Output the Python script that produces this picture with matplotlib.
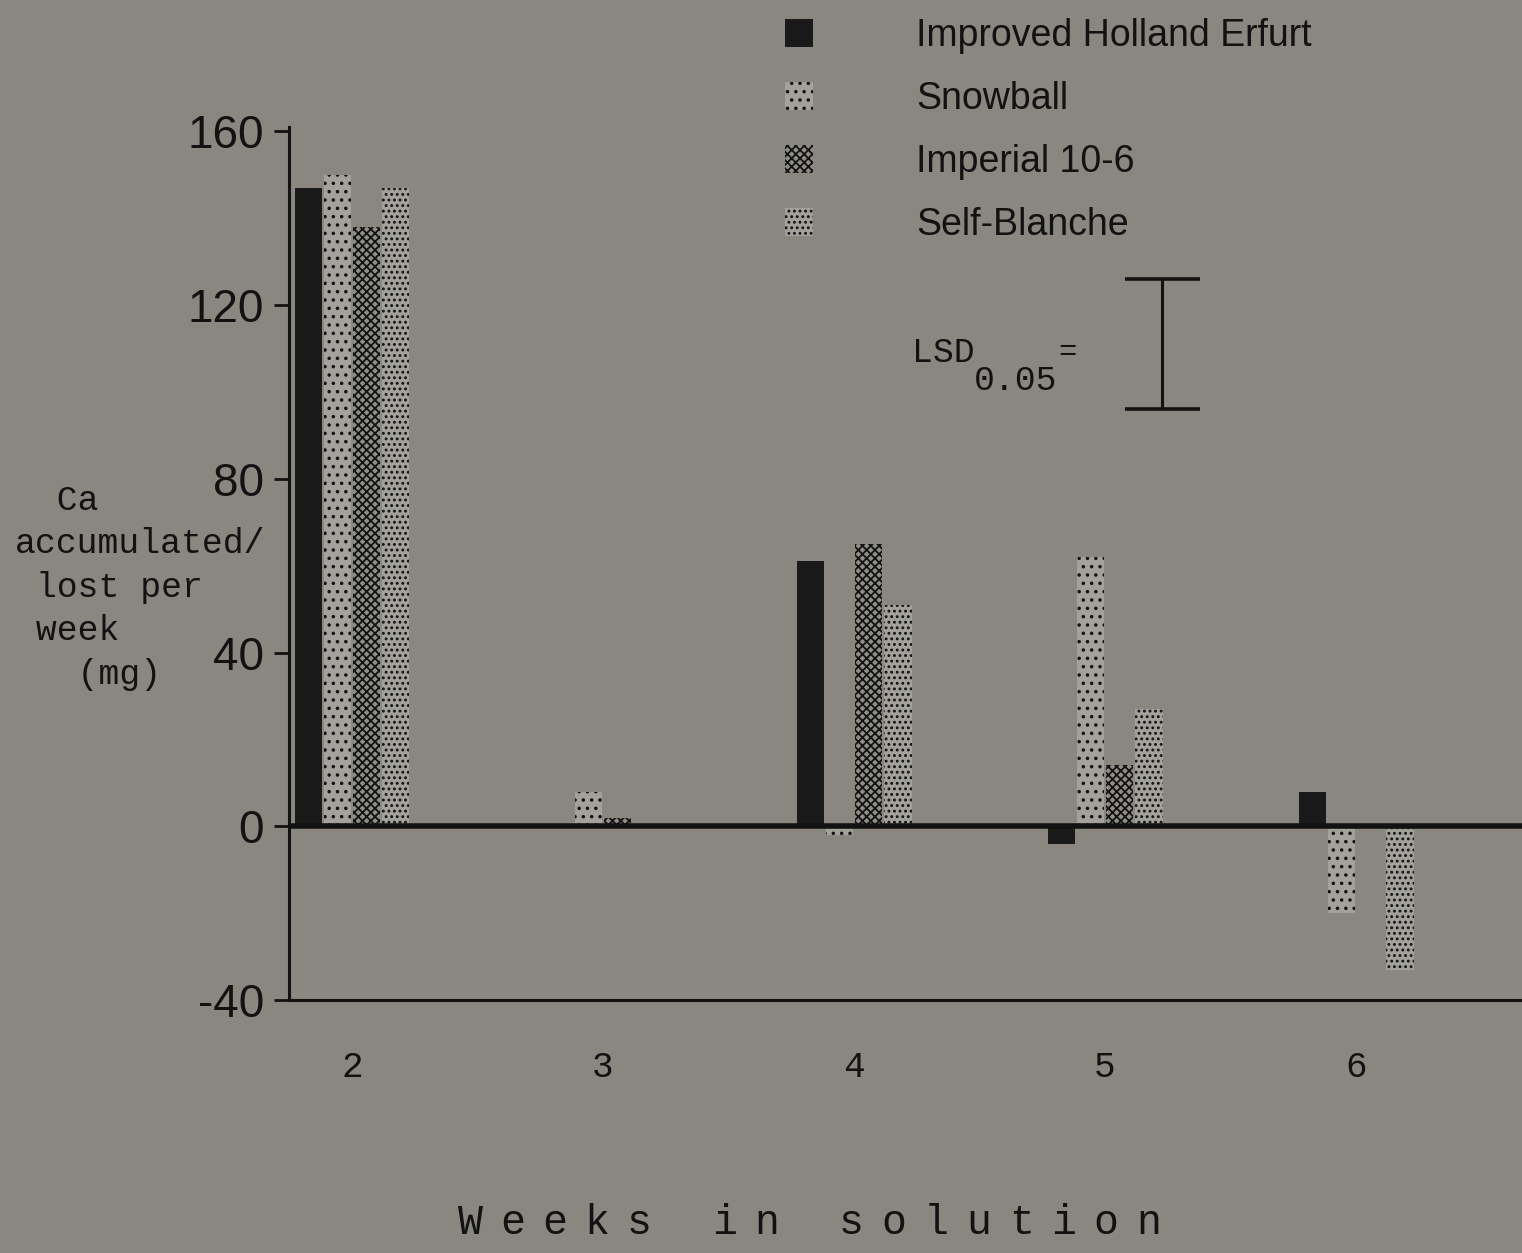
import numpy as np
import matplotlib
matplotlib.use("Agg")
import matplotlib.pyplot as plt
from matplotlib.patches import Patch

# data (mg Ca per week)
weeks = ["2", "3", "4", "5", "6"]
cultivars = ["Improved Holland Erfurt", "Snowball", "Imperial 10-6", "Self-Blanche"]
holland = [147, 0, 61, -4, 8]
snowball = [150, 8, -2, 62, -20]
imperial = [138, 2, 65, 14, 0]
self_blanche = [147, 0, 51, 27, -33]
lsd_value = 30
yticks = [-40, 0, 40, 80, 120, 160]
ylabel_lines = ["  Ca", "accumulated/", " lost per", " week", "   (mg)"]

W, H = 1522, 1253
bg = "#8a8781"
ink = "#121212"
mono = "Liberation Mono"
sans = "Liberation Sans"

plt.rcParams["hatch.linewidth"] = 1.3

def fx(px):
    return px / W

def fy(py):
    return 1 - py / H

fig = plt.figure(figsize=(W / 100, H / 100), dpi=100, facecolor=bg)
ax = fig.add_axes([fx(289), fy(1000), 1 - fx(289), (1000 - 127) / H])
ax.set_facecolor(bg)

x = np.arange(len(weeks))
bw = 0.11
step = 0.116
styles = [
    dict(color="#1a1a1a", hatch=None),
    dict(color="#a3a19b", hatch=".."),
    dict(color="#8f8d88", hatch="xxxx"),
    dict(color="#a3a19b", hatch="..."),
]
series = [holland, snowball, imperial, self_blanche]
handles = []
for i, (vals, st) in enumerate(zip(series, styles)):
    ax.bar(x + (i - 1.5) * step, vals, width=bw, facecolor=st["color"],
           edgecolor=ink, linewidth=0, hatch=st["hatch"], zorder=2)
    handles.append(Patch(facecolor=st["color"], edgecolor=ink, linewidth=0,
                         hatch=st["hatch"], label=cultivars[i]))

ax.axhline(0, color=ink, lw=4, zorder=3)

# LSD bar
ax.errorbar([3.227], [111], yerr=[lsd_value / 2], fmt="none", ecolor=ink,
            elinewidth=2.2, capsize=27, capthick=2.6, zorder=3)

ax.set_xlim(-0.251, 4.661)
ax.set_ylim(-40, 161)
ax.set_yticks(yticks)
ax.set_yticklabels([str(v) for v in yticks], fontfamily=sans, fontsize=33, color=ink)
ax.set_xticks(x)
ax.set_xticklabels(weeks, fontfamily=mono, fontsize=26, color=ink)
ax.tick_params(axis="y", length=11, width=2, pad=7, color=ink)
ax.tick_params(axis="x", length=0, pad=36)
for s in ["top", "right"]:
    ax.spines[s].set_visible(False)
ax.spines["left"].set_linewidth(2.2)
ax.spines["bottom"].set_linewidth(2.2)
ax.spines["left"].set_color(ink)
ax.spines["bottom"].set_color(ink)

fig.legend(handles=handles, loc="upper left", bbox_to_anchor=(fx(785), fy(18)),
           frameon=False, prop=dict(family=sans, size=27), labelcolor=ink,
           handlelength=0.75, handleheight=0.75, handletextpad=2.75,
           labelspacing=0.72, borderpad=0, borderaxespad=0)

# y label, one typed line at a time
for k, line in enumerate(ylabel_lines):
    fig.text(fx(15), fy(510 + k * 43.5), line, fontfamily=mono, fontsize=25,
             color=ink, ha="left", va="baseline")

# LSD label
fig.text(fx(912), fy(362), "LSD", fontfamily=mono, fontsize=25, color=ink)
fig.text(fx(974), fy(390), "0.05", fontfamily=mono, fontsize=25, color=ink)
fig.text(fx(1058), fy(360), "=", fontfamily=mono, fontsize=22, color=ink)

# x label, wide letter spacing as in the typewritten original
xlabel = "Weeks in solution"
for k, ch in enumerate(xlabel):
    fig.text(fx(470 + k * 42.4), fy(1234), ch, fontfamily=mono, fontsize=30,
             color=ink, ha="center", va="baseline")

fig.savefig("out.png", dpi=100, facecolor=bg)
